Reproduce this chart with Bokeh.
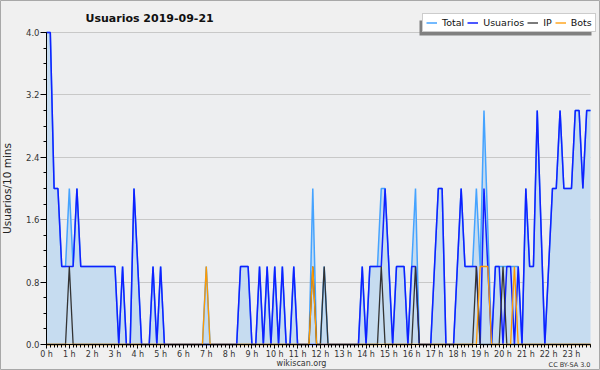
from bokeh.plotting import figure
from bokeh.models import (Range1d, FixedTicker, Legend, LegendItem, Label,
                          BoxAnnotation, PrintfTickFormatter)
from bokeh.embed import file_html
from bokeh.resources import INLINE

# ---------------- data (one value per 10-minute slot) ----------------
title_text = "Usuarios  2019-09-21"
y_label = "Usuarios/10 mins"
footer_left = "wikiscan.org"
footer_right = "CC BY-SA 3.0"
hour_labels = [f"{h} h" for h in range(24)]
y_ticks = [0.0, 0.8, 1.6, 2.4, 3.2, 4.0]

total = [
    4, 4, 2, 2, 1, 1, 2, 1, 2, 1, 1, 1,
    1, 1, 1, 1, 1, 1, 1, 0, 1, 0, 0, 2,
    1, 0, 0, 0, 1, 0, 1, 0, 0, 0, 0, 0,
    0, 0, 0, 0, 0, 0, 1, 0, 0, 0, 0, 0,
    0, 0, 0, 1, 1, 1, 0, 0, 1, 0, 1, 0,
    1, 0, 1, 0, 0, 1, 0, 0, 0, 0, 2, 0,
    0, 1, 0, 0, 0, 0, 0, 0, 0, 0, 0, 1,
    0, 1, 1, 1, 2, 2, 1, 0, 1, 1, 1, 0,
    1, 2, 0, 0, 0, 0, 1, 2, 2, 0, 0, 0,
    1, 2, 1, 1, 1, 2, 1, 3, 1.5, 0, 1, 1,
    1, 1, 1, 1, 1, 0, 2, 1, 1, 3, 1.5, 0,
    1, 2, 2, 3, 2, 2, 2, 3, 3, 2, 3, 3,
]
usuarios = [
    4, 4, 2, 2, 1, 1, 1, 1, 2, 1, 1, 1,
    1, 1, 1, 1, 1, 1, 1, 0, 1, 0, 0, 2,
    1, 0, 0, 0, 1, 0, 1, 0, 0, 0, 0, 0,
    0, 0, 0, 0, 0, 0, 0, 0, 0, 0, 0, 0,
    0, 0, 0, 1, 1, 1, 0, 0, 1, 0, 1, 0,
    1, 0, 1, 0, 0, 1, 0, 0, 0, 0, 0, 0,
    0, 0, 0, 0, 0, 0, 0, 0, 0, 0, 0, 1,
    0, 1, 1, 1, 1, 2, 1, 0, 1, 1, 1, 0,
    1, 1, 0, 0, 0, 0, 1, 2, 2, 0, 0, 0,
    1, 2, 1, 1, 1, 1, 0, 2, 1, 0, 1, 1,
    0, 1, 1, 0, 1, 0, 2, 1, 1, 3, 1.5, 0,
    1, 2, 2, 3, 2, 2, 2, 3, 3, 2, 3, 3,
]
ip = [
    0, 0, 0, 0, 0, 0, 1, 0, 0, 0, 0, 0,
    0, 0, 0, 0, 0, 0, 0, 0, 0, 0, 0, 0,
    0, 0, 0, 0, 0, 0, 0, 0, 0, 0, 0, 0,
    0, 0, 0, 0, 0, 0, 0, 0, 0, 0, 0, 0,
    0, 0, 0, 0, 0, 0, 0, 0, 0, 0, 0, 0,
    0, 0, 0, 0, 0, 0, 0, 0, 0, 0, 1, 0,
    0, 1, 0, 0, 0, 0, 0, 0, 0, 0, 0, 0,
    0, 0, 0, 0, 1, 0, 0, 0, 0, 0, 0, 0,
    0, 1, 0, 0, 0, 0, 0, 0, 0, 0, 0, 0,
    0, 0, 0, 0, 0, 1, 0, 0, 0, 0, 0, 0,
    1, 0, 0, 0, 0, 0, 0, 0, 0, 0, 0, 0,
    0, 0, 0, 0, 0, 0, 0, 0, 0, 0, 0, 0,
]
bots = [
    0, 0, 0, 0, 0, 0, 0, 0, 0, 0, 0, 0,
    0, 0, 0, 0, 0, 0, 0, 0, 0, 0, 0, 0,
    0, 0, 0, 0, 0, 0, 0, 0, 0, 0, 0, 0,
    0, 0, 0, 0, 0, 0, 1, 0, 0, 0, 0, 0,
    0, 0, 0, 0, 0, 0, 0, 0, 0, 0, 0, 0,
    0, 0, 0, 0, 0, 0, 0, 0, 0, 0, 1, 0,
    0, 0, 0, 0, 0, 0, 0, 0, 0, 0, 0, 0,
    0, 0, 0, 0, 0, 0, 0, 0, 0, 0, 0, 0,
    0, 0, 0, 0, 0, 0, 0, 0, 0, 0, 0, 0,
    0, 0, 0, 0, 0, 0, 1, 1, 1, 0, 0, 0,
    0, 0, 0, 1, 0, 0, 0, 0, 0, 0, 0, 0,
    0, 0, 0, 0, 0, 0, 0, 0, 0, 0, 0, 0,
]

# time of each slot in hours
t = [i / 6 for i in range(len(total))]

FONT = "DejaVu Sans"
W, H = 600, 370
# pixel box of the plot area inside the picture
PLOT_L, PLOT_R, PLOT_T, PLOT_B = 46, 590, 32, 344
px_x = (PLOT_R - PLOT_L) / t[-1]
px_y = (PLOT_B - PLOT_T) / y_ticks[-1]
x_range = Range1d(-PLOT_L / px_x, t[-1] + (W - PLOT_R) / px_x)
y_range = Range1d(-(H - PLOT_B) / px_y, y_ticks[-1] + PLOT_T / px_y)

p = figure(width=W, height=H, output_backend="svg", toolbar_location=None,
           x_range=x_range, y_range=y_range,
           min_border_left=0, min_border_right=0, min_border_top=0,
           min_border_bottom=0,
           background_fill_color="#f0f0f0", border_fill_color="#f0f0f0")
p.outline_line_color = "#a8a8a8"
p.outline_line_width = 1

# plot-area background
p.add_layout(BoxAnnotation(left=0, right=t[-1], bottom=0, top=y_ticks[-1],
                           fill_color="#edeef0", fill_alpha=1.0,
                           line_color=None, level="image"))

# area + lines
p.varea(x=t, y1=0, y2=total, fill_color="#c6dcf0", fill_alpha=1.0)
r_total = p.line(t, total, line_color="#45a3ff", line_width=1.5)
r_users = p.line(t, usuarios, line_color="#1020ff", line_width=1.5)
r_ip = p.line(t, ip, line_color="#333333", line_width=1.3)
r_bots = p.line(t, bots, line_color="#ff9a00", line_width=1.3)

# x axis (pinned at y = 0)
xa = p.xaxis[0]
xa.fixed_location = 0
xa.bounds = (0, t[-1])
xa.ticker = FixedTicker(ticks=list(range(24)), minor_ticks=t)
xa.major_label_overrides = {h: hour_labels[h] for h in range(24)}
xa.major_tick_out = 4
xa.major_tick_in = 0
xa.minor_tick_out = 3
xa.minor_tick_in = 0
xa.major_label_standoff = 1
xa.major_label_text_font = FONT
xa.major_label_text_font_size = "8px"
xa.major_label_text_color = "#333333"
xa.axis_line_color = "black"
xa.major_tick_line_color = "black"
xa.minor_tick_line_color = "black"

# y axis (pinned at x = 0)
ya = p.yaxis[0]
ya.fixed_location = 0
ya.bounds = (0, y_ticks[-1])
ya.ticker = FixedTicker(ticks=y_ticks,
                        minor_ticks=[k * 0.2 for k in range(21)])
ya.formatter = PrintfTickFormatter(format="%.1f")
ya.major_tick_out = 6
ya.major_tick_in = 0
ya.minor_tick_out = 3
ya.minor_tick_in = 0
ya.major_label_standoff = 1
ya.major_label_text_font = FONT
ya.major_label_text_font_size = "8.5px"
ya.major_label_text_color = "#333333"
ya.axis_label = y_label
ya.axis_label_text_font = FONT
ya.axis_label_text_font_size = "10.5px"
ya.axis_label_text_font_style = "normal"
ya.axis_label_text_color = "#222222"
ya.axis_label_standoff = 10
ya.axis_line_color = "black"

p.xgrid.visible = False
yg = p.ygrid[0]
yg.ticker = FixedTicker(ticks=y_ticks[1:])
yg.grid_line_color = "#c8c8c8"
yg.grid_line_width = 1
if "cross_bounds" in yg.properties():
    yg.cross_bounds = (0, t[-1])

# legend shadow + legend (screen units from the canvas bottom-left)
p.add_layout(BoxAnnotation(left=419, right=591, bottom=H - 35, top=H - 20,
                           left_units="screen", right_units="screen",
                           bottom_units="screen", top_units="screen",
                           fill_color="#808080", fill_alpha=1.0,
                           line_color=None))

legend = Legend(items=[LegendItem(label="Total", renderers=[r_total]),
                       LegendItem(label="Usuarios", renderers=[r_users]),
                       LegendItem(label="IP", renderers=[r_ip]),
                       LegendItem(label="Bots", renderers=[r_bots])],
                orientation="horizontal", location=(422, H - 32),
                padding=3, spacing=3, margin=0,
                glyph_width=11, glyph_height=9, label_height=9,
                label_width=0,
                label_standoff=5, label_text_font=FONT,
                label_text_font_size="9.5px", label_text_color="#111111",
                border_line_color="#999999", border_line_width=1,
                background_fill_color="white", background_fill_alpha=1.0)
p.add_layout(legend)

# title & footer
p.add_layout(Label(x=85, y=H - 18, x_units="screen", y_units="screen",
                   text=title_text, text_font=FONT, text_font_size="11px",
                   text_font_style="bold", text_color="#111111",
                   text_baseline="alphabetic", text_align="left"))
p.add_layout(Label(x=301, y=H - 363, x_units="screen", y_units="screen",
                   text=footer_left, text_font=FONT, text_font_size="8px",
                   text_color="#333333", text_baseline="alphabetic",
                   text_align="center"))
p.add_layout(Label(x=590, y=H - 364, x_units="screen", y_units="screen",
                   text=footer_right, text_font=FONT, text_font_size="6.5px",
                   text_color="#333333", text_baseline="alphabetic",
                   text_align="right"))

html = file_html(p, INLINE)
html = html.replace("</head>", "<style>body{background:#f0f0f0;}</style></head>", 1)
open("out.html", "w").write(html)
